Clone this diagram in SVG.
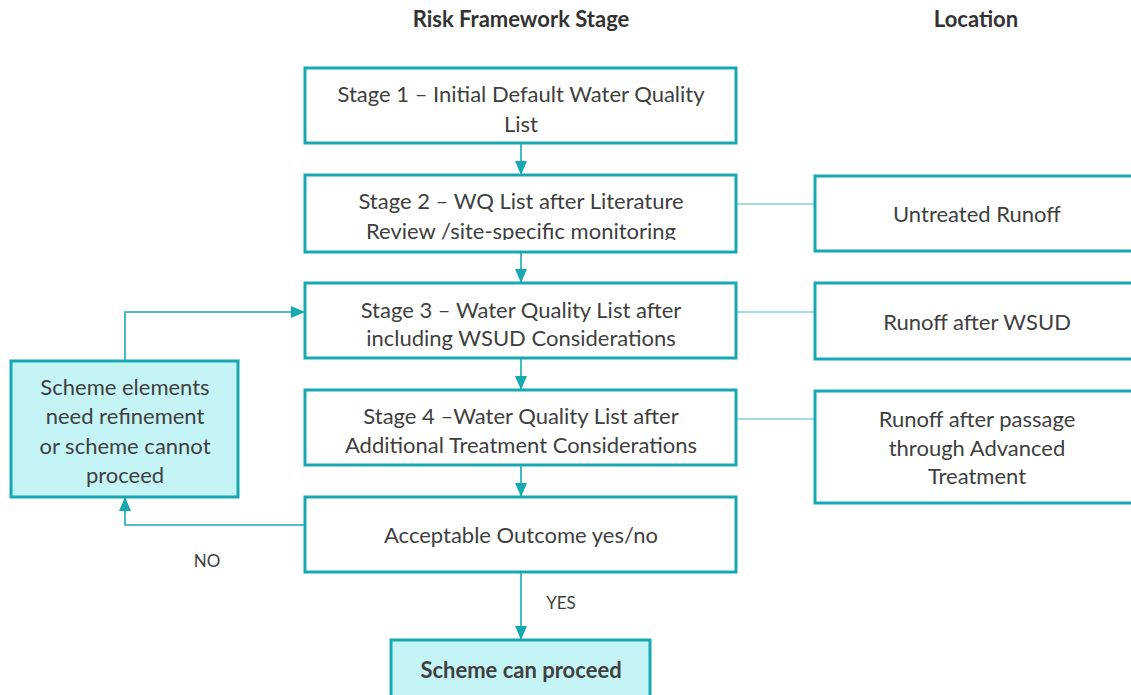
<svg xmlns="http://www.w3.org/2000/svg" width="1131" height="695" viewBox="0 0 1131 695">
<style>
text{font-family:Lato,"Open Sans","Liberation Sans",sans-serif;fill:#404040;font-size:22px;text-anchor:middle}
.hd{font-weight:bold;font-size:22px;fill:#333}
.box{fill:#fff;stroke:#17a9b1;stroke-width:3}
.hl{fill:#c5f4f7;stroke:#17a9b1;stroke-width:3}
.ln{fill:none;stroke:#17a9b1;stroke-width:1.6}
.thin{fill:none;stroke:#4ab8be;stroke-width:1.2}
.lbl{font-size:17px}
</style>
<defs>
<marker id="ah" viewBox="0 0 14 12" refX="14" refY="6" markerWidth="14" markerHeight="12" markerUnits="userSpaceOnUse" orient="auto">
<path d="M0,0 L14,6 L0,12 Z" fill="#17a9b1"/>
</marker>
<clipPath id="c2"><rect x="305" y="175" width="431" height="65"/></clipPath>
<clipPath id="c3"><rect x="305" y="283" width="431" height="68"/></clipPath>
</defs>
<text class="hd" x="521" y="27">Risk Framework Stage</text>
<text class="hd" x="976" y="27">Location</text>
<g id="connectors">
<path class="ln" d="M521,143 V175" marker-end="url(#ah)"/>
<path class="ln" d="M521,252 V283" marker-end="url(#ah)"/>
<path class="ln" d="M521,358 V390" marker-end="url(#ah)"/>
<path class="ln" d="M521,465 V497" marker-end="url(#ah)"/>
<path class="ln" d="M521,572 V640" marker-end="url(#ah)"/>
<path class="ln" d="M125,361 V312 H305" marker-end="url(#ah)"/>
<path class="ln" d="M305,525 H125 V497" marker-end="url(#ah)"/>
<path class="thin" d="M736,204 H815"/>
<path class="thin" d="M736,312 H815"/>
<path class="thin" d="M736,419 H815"/>
<text class="lbl" x="561" y="609">YES</text>
<text class="lbl" x="207" y="567">NO</text>
</g>
<g id="stage1">
<rect class="box" x="305" y="68" width="431" height="75"/>
<text x="521" y="102">Stage 1 – Initial Default Water Quality</text>
<text x="521" y="132">List</text>
</g>
<g id="stage2">
<rect class="box" x="305" y="175" width="431" height="77"/>
<g clip-path="url(#c2)">
<text x="521" y="209">Stage 2 – WQ List after Literature</text>
<text x="521" y="239">Review /site-specific monitoring</text>
</g>
</g>
<g id="stage3">
<rect class="box" x="305" y="283" width="431" height="75"/>
<g clip-path="url(#c3)">
<text x="521" y="318">Stage 3 – Water Quality List after</text>
<text x="521" y="346">including WSUD Considerations</text>
</g>
</g>
<g id="stage4">
<rect class="box" x="305" y="390" width="431" height="75"/>
<text x="521" y="424">Stage 4 –Water Quality List after</text>
<text x="521" y="453">Additional Treatment Considerations</text>
</g>
<g id="outcome">
<rect class="box" x="305" y="497" width="431" height="75"/>
<text x="521" y="543">Acceptable Outcome yes/no</text>
</g>
<g id="proceed">
<rect class="hl" x="391" y="640" width="259" height="70"/>
<text x="521" y="678" style="font-weight:bold">Scheme can proceed</text>
</g>
<g id="refine">
<rect class="hl" x="11" y="361" width="227" height="136"/>
<text x="125" y="395">Scheme elements</text>
<text x="125" y="424">need refinement</text>
<text x="125" y="454">or scheme cannot</text>
<text x="125" y="483">proceed</text>
</g>
<g id="loc1">
<rect class="box" x="815" y="176" width="330" height="75"/>
<text x="977" y="222">Untreated Runoff</text>
</g>
<g id="loc2">
<rect class="box" x="815" y="283" width="330" height="76"/>
<text x="977" y="330">Runoff after WSUD</text>
</g>
<g id="loc3">
<rect class="box" x="815" y="391" width="330" height="112"/>
<text x="977" y="427">Runoff after passage</text>
<text x="977" y="456">through Advanced</text>
<text x="977" y="484">Treatment</text>
</g>
</svg>
